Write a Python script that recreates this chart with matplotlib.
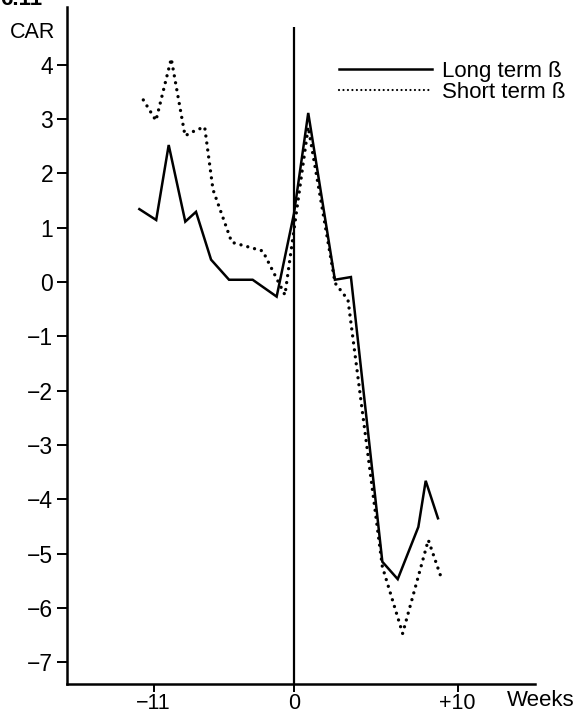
import numpy as np
import matplotlib
matplotlib.use("Agg")
import matplotlib.pyplot as plt

plt.rcParams["font.family"] = ["Liberation Sans", "DejaVu Sans"]

# Cumulative abnormal returns around the event week
weeks_long = [-12.12, -10.8, -9.82, -8.52, -7.68, -6.5, -5.09, -3.24, -1.36, 0.0,
              0.87, 2.5, 3.48, 5.4, 6.34, 7.6, 8.05, 8.8]
car_long = [1.34, 1.14, 2.52, 1.11, 1.29, 0.41, 0.04, 0.04, -0.27, 1.26,
            3.11, 0.04, 0.09, -5.15, -5.47, -4.51, -3.66, -4.35]

weeks_short = [-11.81, -10.82, -9.62, -8.54, -7.63, -7.0, -6.35, -4.88, -3.06, -2.45,
               -0.71, 0.87, 2.51, 3.3, 5.40, 6.64, 8.21, 9.03]
car_short = [3.35, 2.97, 4.11, 2.69, 2.80, 2.85, 1.7, 0.73, 0.61, 0.57,
             -0.24, 2.85, -0.02, -0.33, -5.24, -6.47, -4.75, -5.47]

series_labels = ["Long term ß", "Short term ß"]
y_ticks = [4, 3, 2, 1, 0, -1, -2, -3, -4, -5, -6, -7]
x_ticks = [-11, 0, 10]
x_tick_labels = ["\u221211", "0", "+10"]

# The week axis is drawn with a wider spacing after the event than before it
PRE_SCALE = 12.76
POST_SCALE = 16.36


def forward(x):
    x = np.asarray(x, dtype=float)
    return np.where(x < 0, x * PRE_SCALE, x * POST_SCALE)


def inverse(t):
    t = np.asarray(t, dtype=float)
    return np.where(t < 0, t / PRE_SCALE, t / POST_SCALE)


fig = plt.figure(figsize=(5.82, 7.13), dpi=100)
ax = fig.add_axes([67 / 582, 1 - 684 / 713, (535 - 67) / 582, (684 - 7) / 713])
ax.set_xscale("function", functions=(forward, inverse))
ax.set_xlim(-227 / PRE_SCALE, 241 / POST_SCALE)
ax.set_ylim(-7.40, 5.06)

ax.plot(weeks_long, car_long, color="black", lw=1.8, solid_joinstyle="miter",
        label=series_labels[0])
ax.plot(weeks_short, car_short, color="black", lw=2.4,
        linestyle=(0, (0.01, 2.1)), dash_capstyle="round", label=series_labels[1])

# Event line at week 0
ax.vlines(0, -7.40, 4.70, color="black", lw=1.6)

for side in ("top", "right"):
    ax.spines[side].set_visible(False)
for side in ("left", "bottom"):
    ax.spines[side].set_linewidth(1.8)

ax.set_yticks(y_ticks)
ax.set_xticks(x_ticks)
ax.set_xticklabels(x_tick_labels)
ax.tick_params(axis="y", direction="out", length=7, width=1.4, pad=3, labelsize=16.5)
ax.tick_params(axis="x", direction="out", length=6, width=1.4, pad=0.5, labelsize=15.5)

leg = ax.legend(loc="upper left", bbox_to_anchor=(339 / 582, 1 - 61 / 713),
                bbox_transform=fig.transFigure, frameon=False, fontsize=16,
                handlelength=4.2, handletextpad=0.45, labelspacing=0.0,
                borderpad=0, borderaxespad=0)
leg.get_lines()[1].set_linewidth(1.6)
leg.get_lines()[1].set_linestyle((0, (0.01, 2.0)))

fig.text(10 / 582, 1 - 32 / 713, "CAR", fontsize=15.5, ha="left", va="center")
fig.text(507 / 582, 1 - 701 / 713, "Weeks", fontsize=16, ha="left", va="center")
fig.text(0.0, 1 - 5 / 713, "6.11", fontsize=16, fontweight="bold",
         ha="left", va="baseline")

fig.savefig("out.png", dpi=100)
